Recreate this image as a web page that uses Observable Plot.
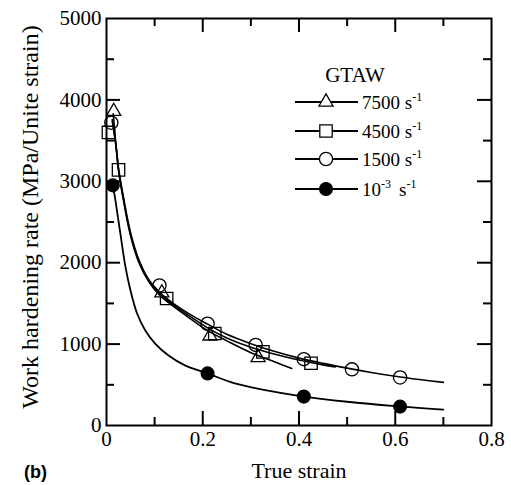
<!DOCTYPE html>
<html>
<head>
<meta charset="utf-8">
<script src="https://cdn.jsdelivr.net/npm/d3@7"></script>
<script src="https://cdn.jsdelivr.net/npm/@observablehq/plot@0.6"></script>
<style>
  body { margin: 0; background: #fff; }
  #wrap { position: relative; width: 511px; height: 485px; }
  #wrap svg { position: absolute; left: 0; top: 0; }
</style>
</head>
<body>
<div id="wrap"></div>
<script>
// ---- data ----
const seriesNames = ["7500", "4500", "1500", "10-3"];

// measured points (true strain, work hardening rate)
const tri7500X = [0.015, 0.115, 0.215, 0.315];
const tri7500Y = [3860, 1630, 1100, 835];
const sq4500X = [0.004, 0.025, 0.125, 0.225, 0.325, 0.425];
const sq4500Y = [3600, 3140, 1560, 1130, 905, 765];
const ci1500X = [0.010, 0.110, 0.210, 0.310, 0.410, 0.510, 0.610];
const ci1500Y = [3720, 1720, 1250, 990, 815, 690, 590];
const fi1e3X = [0.013, 0.210, 0.410, 0.610];
const fi1e3Y = [2950, 640, 355, 232];

// fitted curves
const fit7500X = [0.014, 0.02, 0.025, 0.036, 0.05, 0.067, 0.088, 0.11, 0.1365, 0.171, 0.21, 0.25, 0.30, 0.35, 0.385];
const fit7500Y = [3830, 3420, 3130, 2740, 2330, 2005, 1765, 1605, 1475, 1325, 1165, 1040, 895, 780, 700];
const fit4500X = [0.012, 0.02, 0.025, 0.036, 0.05, 0.067, 0.088, 0.11, 0.1365, 0.171, 0.21, 0.25, 0.30, 0.35, 0.40, 0.45, 0.475];
const fit4500Y = [3740, 3420, 3150, 2760, 2350, 2025, 1780, 1625, 1495, 1350, 1200, 1075, 960, 875, 805, 745, 718];
const fit1500X = [0.012, 0.02, 0.025, 0.036, 0.05, 0.067, 0.088, 0.11, 0.1365, 0.171, 0.21, 0.25, 0.30, 0.35, 0.40, 0.45, 0.50, 0.55, 0.60, 0.65, 0.70];
const fit1500Y = [3760, 3430, 3160, 2780, 2370, 2040, 1790, 1640, 1510, 1375, 1245, 1120, 1005, 908, 828, 763, 705, 652, 605, 565, 530];
const fit1e3X = [0.012, 0.0187, 0.029, 0.0395, 0.05, 0.064, 0.081, 0.102, 0.129, 0.164, 0.21, 0.265, 0.33, 0.40, 0.50, 0.60, 0.70];
const fit1e3Y = [3000, 2760, 2350, 1945, 1655, 1370, 1165, 1000, 860, 735, 640, 520, 435, 365, 292, 238, 196];

// axis ticks
const xLabelTicks = [0, 0.2, 0.4, 0.6, 0.8];
const xMajorTicks = [0.2, 0.4, 0.6];
const xMinorTicks = [0.1, 0.3, 0.5, 0.7];
const yLabelTicks = [0, 1000, 2000, 3000, 4000, 5000];
const yMajorTicks = [1000, 2000, 3000, 4000];
const yMinorTicks = [500, 1500, 2500, 3500, 4500];

const xTitle = "True strain";
const yTitle = "Work hardening rate (MPa/Unite strain)";
const panelTag = "(b)";
const legendTitle = "GTAW";
const legendRates = ["7500", "4500", "1500", "10"];
const legendExps = ["-1", "-1", "-1", "-3"];

// ---- build tables ----
const zip = (xs, ys) => xs.map((x, i) => ({x, y: ys[i]}));
const pts = [zip(tri7500X, tri7500Y), zip(sq4500X, sq4500Y), zip(ci1500X, ci1500Y), zip(fi1e3X, fi1e3Y)];
const fits = [zip(fit7500X, fit7500Y), zip(fit4500X, fit4500Y), zip(fit1500X, fit1500Y), zip(fit1e3X, fit1e3Y)];

const W = 511, H = 485, mL = 106, mR = 20, mT = 18, mB = 60;
const fw = W - mL - mR, fh = H - mT - mB;
const major = 14, minor = 8;
const serif = "'Liberation Serif', 'Times New Roman', serif";

const markerStyle = [
  {symbol: "triangle", r: 5.2, fill: "none"},
  {symbol: "square", r: 7, fill: "none"},
  {symbol: "circle", r: 6.6, fill: "none"},
  {symbol: "circle", r: 6.4, fill: "black"}
];

const plot = Plot.plot({
  width: W, height: H,
  marginLeft: mL, marginRight: mR, marginTop: mT, marginBottom: mB,
  style: {fontFamily: serif, color: "black", background: "white"},
  x: {domain: [0, 0.8]},
  y: {domain: [0, 5000]},
  marks: [
    // inward ticks on all four sides
    Plot.tickX(xMajorTicks, {x: d => d, insetTop: fh - major, strokeWidth: 2}),
    Plot.tickX(xMinorTicks, {x: d => d, insetTop: fh - minor, strokeWidth: 2}),
    Plot.tickX(xMajorTicks, {x: d => d, insetBottom: fh - major, strokeWidth: 2}),
    Plot.tickX(xMinorTicks, {x: d => d, insetBottom: fh - minor, strokeWidth: 2}),
    Plot.tickY(yMajorTicks, {y: d => d, insetRight: fw - major, strokeWidth: 2}),
    Plot.tickY(yMinorTicks, {y: d => d, insetRight: fw - minor, strokeWidth: 2}),
    Plot.tickY(yMajorTicks, {y: d => d, insetLeft: fw - major, strokeWidth: 2}),
    Plot.tickY(yMinorTicks, {y: d => d, insetLeft: fw - minor, strokeWidth: 2}),
    Plot.axisX(xLabelTicks, {tickSize: 0, tickPadding: 6, fontSize: 21, label: null, tickFormat: d => String(d)}),
    Plot.axisY(yLabelTicks, {tickSize: 0, tickPadding: 5, fontSize: 21, label: null, tickFormat: d => String(d)}),
    Plot.frame({strokeWidth: 2}),
    // fitted curves
    ...fits.map((f, i) => Plot.line(f, {x: "x", y: "y", curve: "catmull-rom", stroke: "black", strokeWidth: i === 3 ? 1.8 : 1.6})),
    // data points
    ...pts.map((p, i) => Plot.dot(p, {x: "x", y: "y", symbol: markerStyle[i].symbol, r: markerStyle[i].r,
      fill: markerStyle[i].fill, stroke: "black", strokeWidth: 1.3})),
    // titles
    Plot.text([xTitle], {frameAnchor: "bottom", dy: 52, fontSize: 22, fontFamily: serif}),
    Plot.text([yTitle], {frameAnchor: "left", textAnchor: "middle", dx: -76, dy: -5, rotate: -90, fontSize: 24, fontFamily: serif}),
    Plot.text([panelTag], {frameAnchor: "bottom-left", dx: -71, dy: 52, textAnchor: "middle",
      fontSize: 18, fontWeight: "bold", fontFamily: "'Liberation Sans', Arial, sans-serif"})
  ]
});

const wrap = document.getElementById("wrap");
wrap.appendChild(plot);

// ---- legend overlay ----
const leg = d3.select(wrap).append("svg")
  .attr("width", W).attr("height", H)
  .style("pointer-events", "none")
  .style("font-family", serif);

leg.append("text").attr("x", 355).attr("y", 82).attr("text-anchor", "middle")
  .attr("font-size", 21).text(legendTitle);

const rowY = [102, 131, 159, 189];
legendRates.forEach((rate, i) => {
  const y = rowY[i];
  leg.append("line").attr("x1", 295).attr("x2", 358).attr("y1", y).attr("y2", y)
    .attr("stroke", "black").attr("stroke-width", 1.8);
  const m = markerStyle[i];
  const size = Math.PI * m.r * m.r;
  leg.append("path")
    .attr("d", d3.symbol(m.symbol === "triangle" ? d3.symbolTriangle : m.symbol === "square" ? d3.symbolSquare : d3.symbolCircle, size)())
    .attr("transform", `translate(326,${y})`)
    .attr("fill", m.fill === "none" ? "white" : "black")
    .attr("stroke", "black").attr("stroke-width", 1.3);
  const t = leg.append("text").attr("x", 362).attr("y", y + 7).attr("font-size", 19);
  if (i < 3) {
    t.append("tspan").text(rate + " s");
    t.append("tspan").attr("dy", -8).attr("font-size", 12).text(legendExps[i]);
  } else {
    t.append("tspan").text(rate);
    t.append("tspan").attr("dy", -8).attr("font-size", 12).text(legendExps[i]);
    t.append("tspan").attr("dy", 8).attr("dx", 8).text("s");
    t.append("tspan").attr("dy", -8).attr("font-size", 12).text("-1");
  }
});
</script>
</body>
</html>
